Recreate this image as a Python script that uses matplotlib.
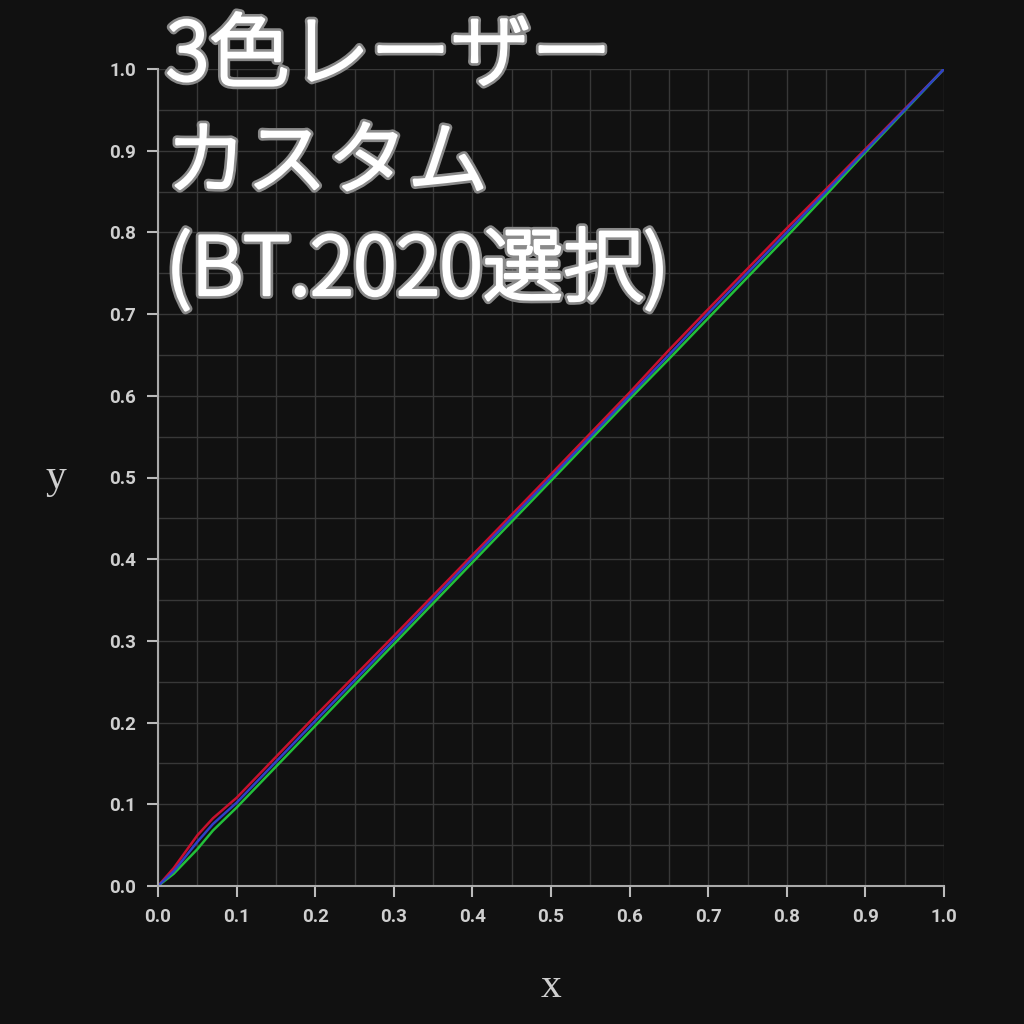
"""3色レーザー カスタム (BT.2020選択) — tracking curves, dark theme."""
import matplotlib
matplotlib.use("Agg")
import matplotlib.pyplot as plt
import matplotlib.patheffects as pe
from matplotlib.ticker import MultipleLocator

BG = "#111111"
GRID = "#383838"
TXT = "#cfcfcf"

x_pts = [0.0, 0.02, 0.05, 0.07, 0.10, 0.20, 0.30, 0.40, 0.50, 0.60,
         0.65, 0.70, 0.80, 0.85, 0.90, 1.00]
red_y = [0.0, 0.022, 0.062, 0.083, 0.108, 0.208, 0.306, 0.405, 0.504, 0.604,
         0.656, 0.706, 0.805, 0.853, 0.902, 1.0]
green_y = [0.0, 0.015, 0.045, 0.068, 0.096, 0.196, 0.296, 0.396, 0.496, 0.596,
           0.645, 0.695, 0.795, 0.846, 0.898, 1.0]
blue_y = [0.0, 0.018, 0.054, 0.076, 0.102, 0.202, 0.301, 0.401, 0.500, 0.600,
          0.650, 0.701, 0.800, 0.850, 0.900, 1.0]

tick_vals = [i / 10 for i in range(11)]
tick_labels = [f"{v:.1f}" for v in tick_vals]
title = "3色レーザー\nカスタム\n(BT.2020選択)"

fig = plt.figure(figsize=(10.24, 10.24), dpi=100, facecolor=BG)
ax = fig.add_axes([158 / 1024, 138 / 1024, 786 / 1024, 817 / 1024])
ax.set_facecolor(BG)

ax.plot(x_pts, red_y, color="#c8102e", linewidth=1.8)
ax.plot(x_pts, green_y, color="#22c03a", linewidth=1.8)
ax.plot(x_pts, blue_y, color="#2f3fc8", linewidth=1.8)

ax.set_xlim(0, 1); ax.set_ylim(0, 1)
ax.set_xticks(tick_vals); ax.set_xticklabels(tick_labels)
ax.set_yticks(tick_vals); ax.set_yticklabels(tick_labels)
ax.xaxis.set_minor_locator(MultipleLocator(0.05))
ax.yaxis.set_minor_locator(MultipleLocator(0.05))
ax.grid(which="both", color=GRID, linewidth=1.0)
ax.set_axisbelow(True)
ax.tick_params(which="major", direction="out", length=8, width=1.5,
               color="#bbbbbb", labelcolor=TXT, labelsize=13.5, pad=8)
ax.tick_params(which="minor", length=0)
for lab in ax.get_xticklabels() + ax.get_yticklabels():
    lab.set_fontweight("bold")
    lab.set_family("Roboto")
for side in ("top", "right"):
    ax.spines[side].set_visible(False)
for side in ("left", "bottom"):
    ax.spines[side].set_color("#aaaaaa")
    ax.spines[side].set_linewidth(1.5)

ax.set_xlabel("x", family="Liberation Serif", fontsize=30, color=TXT, labelpad=30)
ax.set_ylabel("y", family="Liberation Serif", fontsize=30, color=TXT,
              rotation=0, labelpad=38, va="center")

# white glyphs thickened a little, with a thin grey rim
fig.text(166 / 1024, 1 - 16 / 1024, title, ha="left", va="top",
         family=["Noto Sans CJK JP", "DejaVu Sans"], fontweight="light",
         fontsize=58, color="white", linespacing=1.38,
         path_effects=[pe.Stroke(linewidth=6, foreground="#8a8a8a"),
                       pe.Stroke(linewidth=2.2, foreground="white"),
                       pe.Normal()])

fig.savefig("out.png", dpi=100, facecolor=BG)
